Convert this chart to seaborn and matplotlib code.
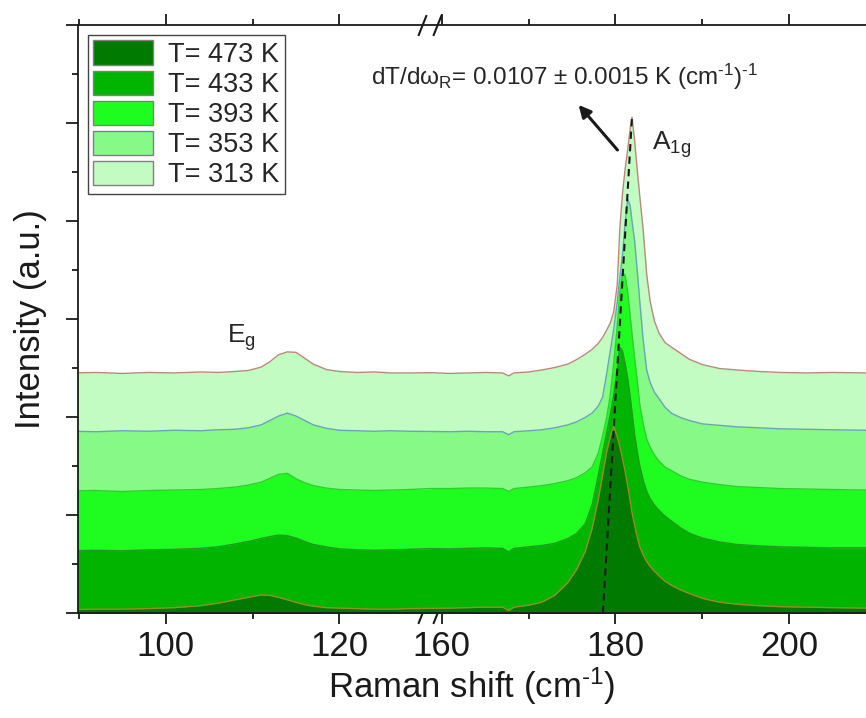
import numpy as np
import seaborn as sns
import matplotlib.pyplot as plt
from matplotlib.patches import Patch
from matplotlib.ticker import FixedLocator

# Raman shift grid (cm-1), left part 89-130.5, right part 158.7-209
wavenumber = [89, 92, 95, 98, 101, 104, 106, 108, 109.5, 111, 112, 113, 114, 115, 116, 117, 118.5,
              120, 122, 124, 126, 128, 130.5,
              158.7, 161, 163, 165, 167, 167.7, 168.3, 170, 171.5, 173, 174.5, 175.5, 176.5, 177.3,
              178, 178.5, 179, 179.4, 179.8, 180.2, 180.5, 180.8, 181.1, 181.4, 181.7, 181.9, 182.2,
              182.5, 182.8, 183.2, 183.6, 184, 184.5, 185, 185.7, 186.5, 187.5, 188.5, 190, 192, 194,
              196.5, 199, 202, 205, 209]

i_313 = [4.90, 4.91, 4.89, 4.91, 4.90, 4.92, 4.91, 4.93, 4.95, 5.02, 5.13, 5.27, 5.33, 5.32, 5.20, 5.08, 4.97,
         4.93, 4.91, 4.92, 4.90, 4.90, 4.91,
         4.90, 4.89, 4.90, 4.91, 4.90, 4.84, 4.90, 4.92, 4.96, 5.01, 5.08, 5.17, 5.28, 5.38,
         5.50, 5.62, 5.78, 5.92, 6.15, 6.70, 7.85, 8.55, 9.05, 9.45, 9.90, 10.12, 9.65,
         9.05, 8.50, 7.80, 6.90, 6.35, 5.95, 5.72, 5.52, 5.42, 5.30, 5.18, 5.07, 4.99, 4.96,
         4.93, 4.91, 4.90, 4.91, 4.90]
i_353 = [3.71, 3.70, 3.72, 3.71, 3.73, 3.72, 3.74, 3.75, 3.78, 3.84, 3.93, 4.02, 4.08, 4.02, 3.93, 3.84, 3.77,
         3.73, 3.72, 3.71, 3.72, 3.71, 3.70,
         3.71, 3.70, 3.71, 3.70, 3.70, 3.64, 3.70, 3.72, 3.74, 3.78, 3.84, 3.90, 3.99, 4.08,
         4.22, 4.40, 4.90, 5.35, 5.80, 6.35, 6.85, 7.30, 7.95, 8.45, 8.30, 8.00, 7.60,
         7.00, 6.35, 5.55, 4.95, 4.70, 4.50, 4.38, 4.20, 4.07, 3.99, 3.93, 3.86, 3.83, 3.80,
         3.78, 3.76, 3.75, 3.74, 3.73]
i_393 = [2.49, 2.50, 2.48, 2.50, 2.51, 2.52, 2.54, 2.57, 2.61, 2.67, 2.75, 2.83, 2.85, 2.74, 2.66, 2.60, 2.55,
         2.52, 2.51, 2.50, 2.51, 2.52, 2.53,
         2.55, 2.54, 2.55, 2.55, 2.54, 2.48, 2.54, 2.57, 2.60, 2.64, 2.70, 2.76, 2.86, 2.98,
         3.25, 3.60, 4.00, 4.45, 5.10, 5.85, 6.55, 6.95, 6.90, 6.55, 6.05, 5.70, 5.20,
         4.75, 4.25, 3.85, 3.55, 3.38, 3.22, 3.10, 2.98, 2.90, 2.80, 2.73, 2.67, 2.62, 2.58,
         2.56, 2.54, 2.53, 2.52, 2.51]
i_433 = [1.27, 1.28, 1.27, 1.29, 1.30, 1.32, 1.35, 1.41, 1.46, 1.52, 1.56, 1.59, 1.58, 1.53, 1.46, 1.40, 1.35,
         1.31, 1.29, 1.28, 1.29, 1.30, 1.31,
         1.32, 1.31, 1.32, 1.33, 1.32, 1.25, 1.32, 1.35, 1.38, 1.42, 1.52, 1.62, 1.82, 2.20,
         2.80, 3.25, 3.70, 4.05, 4.45, 4.95, 5.43, 5.35, 5.10, 4.80, 4.40, 4.10, 3.65,
         3.30, 3.00, 2.70, 2.48, 2.33, 2.20, 2.10, 1.98, 1.87, 1.74, 1.63, 1.53, 1.45, 1.40,
         1.37, 1.35, 1.34, 1.33, 1.33]
i_473 = [0.07, 0.08, 0.08, 0.09, 0.11, 0.15, 0.20, 0.27, 0.32, 0.37, 0.36, 0.32, 0.27, 0.22, 0.17, 0.14, 0.11,
         0.10, 0.09, 0.08, 0.08, 0.09, 0.09,
         0.10, 0.10, 0.11, 0.12, 0.12, 0.05, 0.12, 0.16, 0.22, 0.36, 0.62, 0.88, 1.25, 1.72,
         2.30, 2.80, 3.30, 3.60, 3.80, 3.60, 3.40, 3.15, 2.90, 2.60, 2.28, 2.05, 1.80,
         1.55, 1.35, 1.18, 1.05, 0.95, 0.85, 0.76, 0.65, 0.56, 0.47, 0.40, 0.30, 0.22, 0.18,
         0.15, 0.13, 0.12, 0.11, 0.10]

temps = ['313', '353', '393', '433', '473']
fill_colors = ['#c2fcc2', '#86f986', '#1ffc1f', '#00b400', '#007a00']
line_colors = ['#b88a7a', '#6aa5b5', '#2ed02e', '#1f9c1f', '#9b8a2a']

# dashed guide through the A1g maxima
dash_x = [178.55, 181.9]
dash_y = [0.0, 10.12]

BREAK_LO, BREAK_HI = 130.5, 158.7
GAP = BREAK_HI - BREAK_LO


def fwd(x):
    x = np.asarray(x, dtype=float)
    return np.where(x <= BREAK_LO, x, np.where(x >= BREAK_HI, x - GAP, BREAK_LO))


def inv(x):
    x = np.asarray(x, dtype=float)
    return np.where(x <= BREAK_LO, x, x + GAP)


sns.set_theme(style='ticks')
plt.rcParams['font.family'] = ['Liberation Sans', 'DejaVu Sans']
plt.rcParams['mathtext.default'] = 'regular'

fig = plt.figure(figsize=(8.66, 7.18), dpi=100)
ax = fig.add_axes([0.0901, 0.1462, 0.9099, 0.8189])
ax.set_xscale('function', functions=(fwd, inv))

series = [i_313, i_353, i_393, i_433, i_473]
for k, vals in enumerate(series):
    ax.fill_between(wavenumber, 0, vals, color=fill_colors[k], lw=0, zorder=2 + k)
    sns.lineplot(x=wavenumber, y=vals, color=line_colors[k], lw=1.0, ax=ax,
                 zorder=2.5 + k, legend=False)

sns.lineplot(x=dash_x, y=dash_y, color='k', lw=1.5, ax=ax, zorder=20,
             linestyle=(0, (3.5, 2.5)), legend=False)

ax.set_xlim(89.9, 208.85)
ax.set_ylim(0, 12)
ax.xaxis.set_major_locator(FixedLocator([100, 120, 160, 180, 200]))
ax.xaxis.set_minor_locator(FixedLocator([90, 110, 170, 190]))
ax.set_xticklabels(['100', '120', '160', '180', '200'])
ax.yaxis.set_major_locator(FixedLocator([0, 2, 4, 6, 8, 10, 12]))
ax.yaxis.set_minor_locator(FixedLocator([1, 3, 5, 7, 9, 11]))

for s in ['left', 'bottom', 'top']:
    ax.spines[s].set_linewidth(1.3)
    ax.spines[s].set_color('k')
    ax.spines[s].set_zorder(30)
ax.spines['right'].set_visible(False)

ax.tick_params(axis='x', which='major', direction='out', length=8, width=1.3,
               labelsize=25, pad=4, top=True, colors='k')
ax.tick_params(axis='x', which='minor', direction='out', length=4.5, width=1.3, top=True, colors='k')
ax.tick_params(axis='y', which='major', direction='out', length=8.5, width=1.3,
               labelleft=False, right=False, colors='k')
ax.tick_params(axis='y', which='minor', direction='out', length=4.3, width=1.3,
               right=False, colors='k')

ax.set_xlabel('Raman shift (cm$^{\u2010 1}$)', fontsize=25, labelpad=2, color='k')
ax.set_ylabel('Intensity (a.u.)', fontsize=25, labelpad=14, color='k')

# axis break marks
trans = ax.get_xaxis_transform()
for y0 in (0, 1):
    ax.plot([129.5, 159.5], [y0, y0], transform=trans, ls='none',
            marker=[(-0.4, -1), (0.4, 1)], ms=15, mew=1.5, color='k',
            clip_on=False, zorder=1)

ax.text(107.0, 5.51, 'E$_{g}$', fontsize=19, ha='left', va='baseline')
ax.text(184.25, 9.45, 'A$_{1g}$', fontsize=19, ha='left', va='baseline')
ax.text(174.1, 10.78, 'dT/dω$_{R}$= 0.0107 ± 0.0015 K (cm$^{\u20101}$)$^{\u20101}$',
        fontsize=17.5, ha='center', va='baseline')
ax.annotate('', xy=(175.75, 10.37), xytext=(180.23, 9.45),
            arrowprops=dict(arrowstyle='-|>', color='k', lw=2.2,
                            mutation_scale=18, shrinkA=0, shrinkB=0))

handles = [Patch(facecolor=fill_colors[k], edgecolor='#808080', lw=1, label='T= %s K' % temps[k])
           for k in range(4, -1, -1)]
leg = ax.legend(handles=handles, loc='upper left', bbox_to_anchor=(0.0127, 0.983),
                borderaxespad=0, fontsize=19.5, frameon=True, fancybox=False,
                edgecolor='#444444', framealpha=1, handlelength=2.2, handleheight=1.0,
                handletextpad=0.55, labelspacing=0.1, borderpad=0.2)
leg.get_frame().set_linewidth(1.0)
leg.set_zorder(40)

fig.savefig('out.png', dpi=100)
